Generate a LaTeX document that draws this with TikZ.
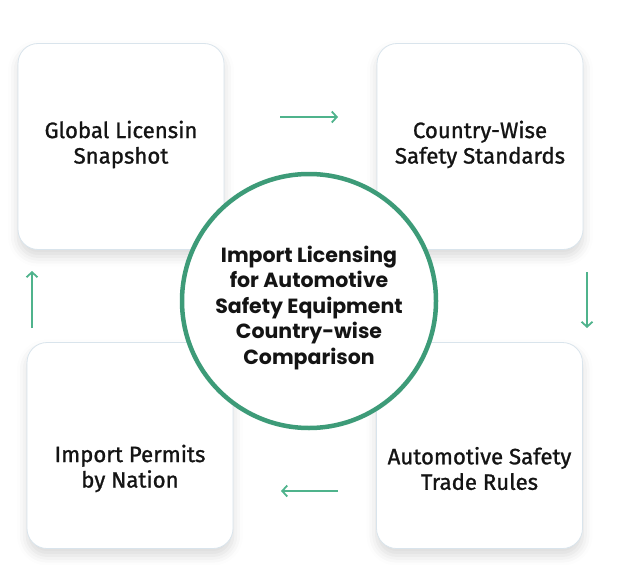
\documentclass[tikz,border=0pt]{standalone}
\usepackage{fontspec}
\setmainfont{Fira Sans}[FakeBold=1.1]
\newfontfamily\hubfont{Poppins}
\usetikzlibrary{shadows.blur, arrows.meta}
\definecolor{ringgreen}{HTML}{3D9B78}
\definecolor{arrowgreen}{HTML}{4FB38C}
\definecolor{cardedge}{HTML}{D9E4EC}
\begin{document}
\begin{tikzpicture}[
    x=1pt, y=-1pt,
    every node/.style={text=black!92},
    card/.style={rectangle, draw=cardedge, line width=0.8pt, fill=white, rounded corners=20pt, minimum width=206pt, minimum height=206pt,
        blur shadow={shadow xshift=0pt, shadow yshift=-7pt, shadow blur radius=10pt, shadow opacity=15}},
    cardtext/.style={align=center, font=\fontsize{22.2}{25.5}\selectfont},
    hub/.style={circle, draw=ringgreen, line width=4.5pt, fill=white, minimum size=254pt},
    hubtext/.style={align=center, font=\hubfont\fontsize{20.5}{25.5}\selectfont\bfseries},
    flow/.style={-{Straight Barb[length=5pt, width=11pt, line width=1.8pt]}, draw=arrowgreen, line width=1.8pt}
]
    \useasboundingbox (0,0) rectangle (617,564);

% -------------------------
% Cards
% -------------------------
    \node[card] (snap) at (121, 146.5) {};
    \node[card] (stds) at (480, 146.5) {};
    \node[card] (rules) at (479.5, 445.5) {};
    \node[card] (permits) at (130, 445.5) {};

    \node[cardtext] (snapT) at ([yshift=2pt]snap.center) {Global Licensin\\Snapshot};
    \node[cardtext] (stdsT) at ([yshift=2pt]stds.center) {Country-Wise\\Safety Standards};
    \node[cardtext] (rulesT) at ([yshift=-23pt]rules.center) {Automotive Safety\\Trade Rules};
    \node[cardtext] (permitsT) at ([yshift=-23pt]permits.center) {Import Permits\\by Nation};

% -------------------------
% Centre circle
% -------------------------
    \node[hub] (topic) at (309, 301) {};
    \node[hubtext] (topicT) at ([yshift=-7pt]topic.center) {Import Licensing\\for Automotive\\Safety Equipment\\Country-wise\\Comparison};

% -------------------------
% Arrows
% -------------------------
    \coordinate (a1s) at (280, 117);  \coordinate (a1e) at (338, 117);
    \coordinate (a2s) at (587, 272);  \coordinate (a2e) at (587, 328);
    \coordinate (a3s) at (338, 491);  \coordinate (a3e) at (281, 491);
    \coordinate (a4s) at (32, 328);   \coordinate (a4e) at (32, 271);

    \draw[flow] (a1s) -- (a1e);
    \draw[flow] (a2s) -- (a2e);
    \draw[flow] (a3s) -- (a3e);
    \draw[flow] (a4s) -- (a4e);
\end{tikzpicture}
\end{document}
